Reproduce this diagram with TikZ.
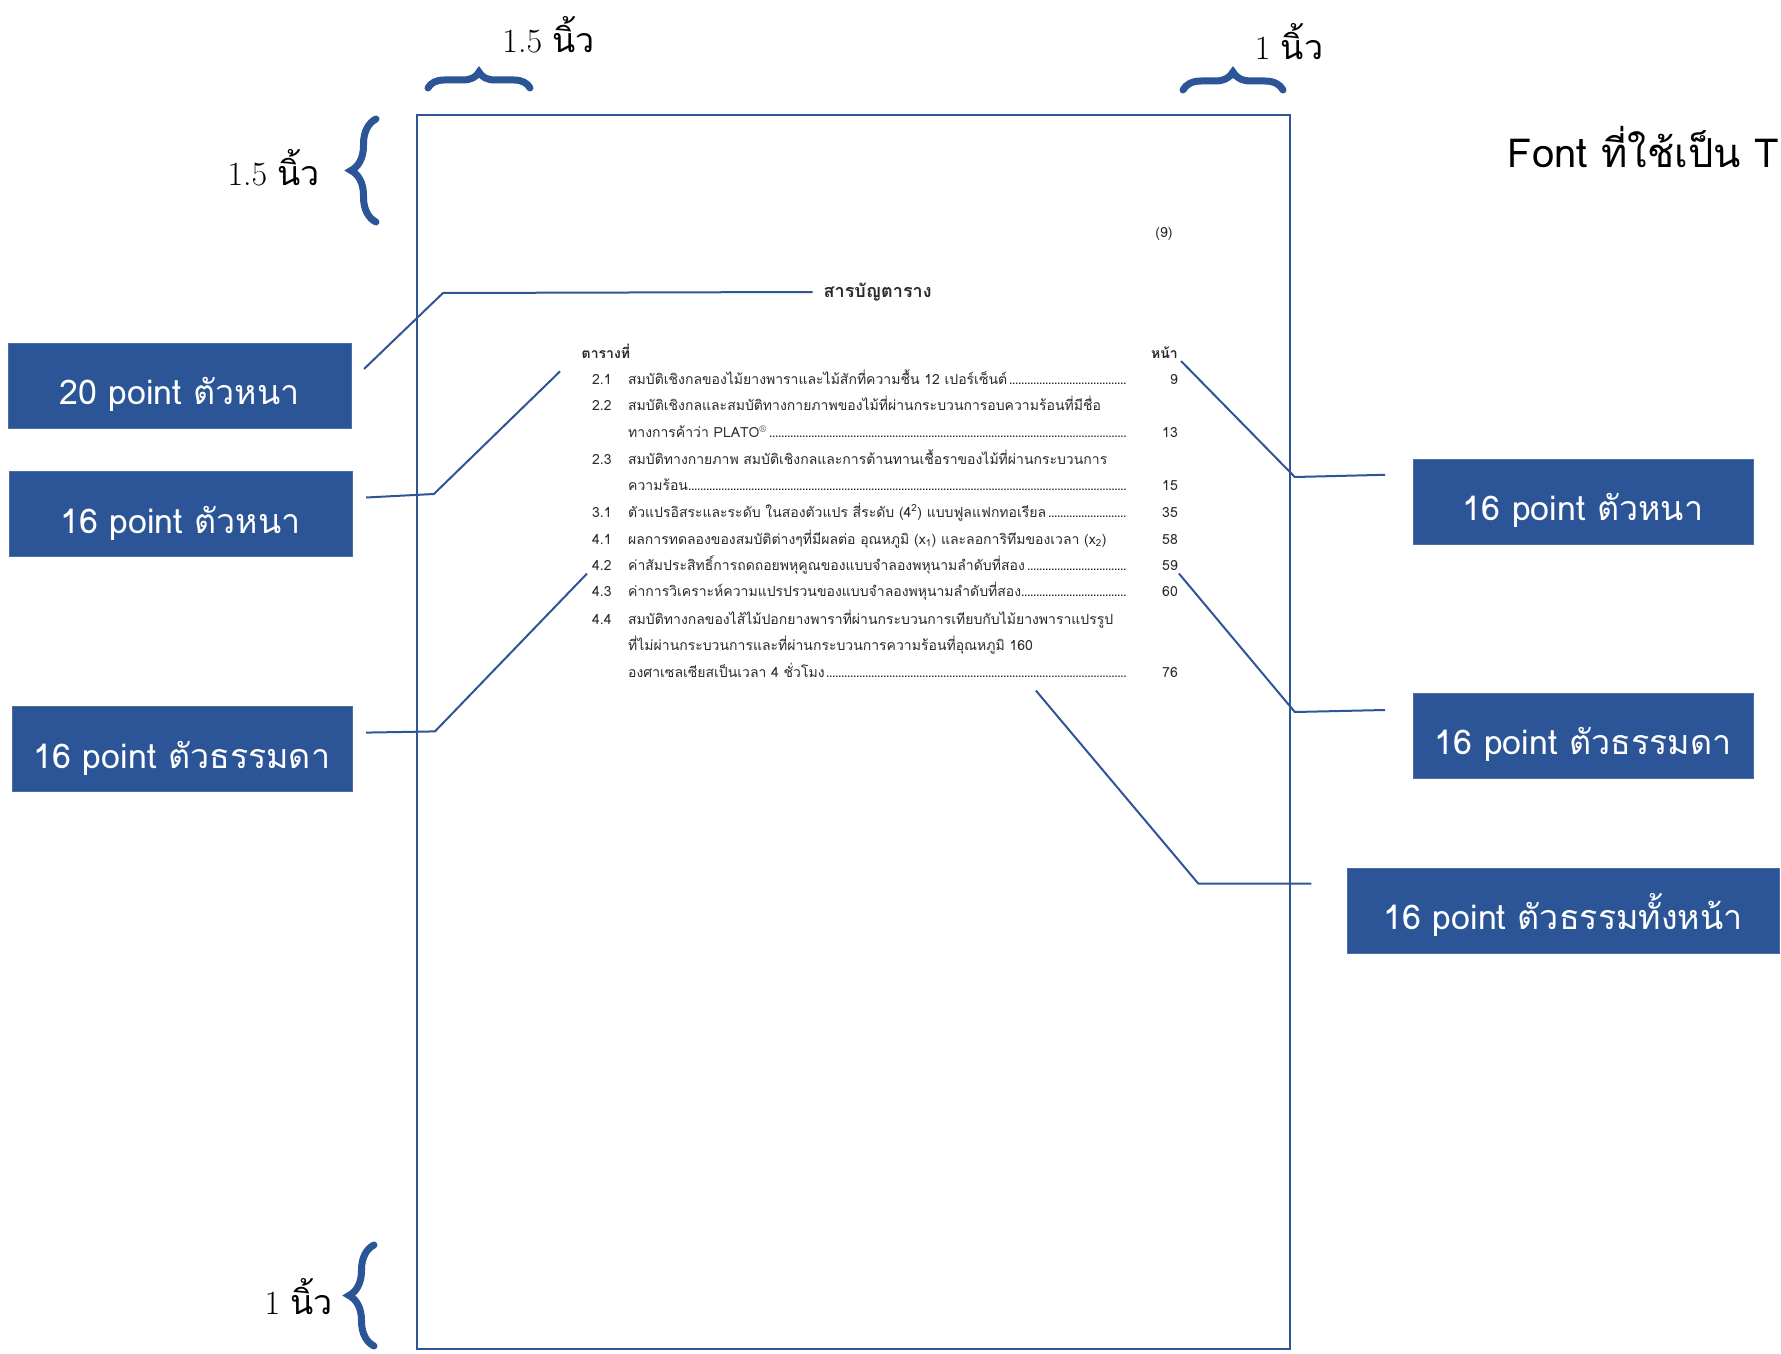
\documentclass[tikz,border=0pt]{standalone}
\usepackage{fontspec}
\newfontfamily\thai[Script=Thai]{Loma}
\usetikzlibrary{decorations.pathreplacing}
\definecolor{boxblue}{HTML}{2B5597}
\definecolor{lineblue}{HTML}{2F5597}
\definecolor{pagetxt}{HTML}{2A2A2A}
\newcommand{\rowfont}{\thai\fontsize{14}{16}\selectfont}
\newcommand{\tightdots}{\leaders\hbox to 3pt{\hss.\hss}\hfill}
\newcommand{\dotrow}[1]{\makebox[500pt][l]{#1\tightdots}}
\begin{document}
\begin{tikzpicture}[x=1pt,y=-1pt,
  labelbox/.style={fill=boxblue, draw=boxblue!85!white, line width=1pt, text=white,
    font=\thai\fontsize{34}{38}\selectfont, inner sep=0pt, minimum height=85pt,
    text height=38pt, text depth=0pt},
  conn/.style={draw=lineblue, line width=2pt},
  bracestyle/.style={draw=boxblue, line width=7pt, line cap=round,
    decorate, decoration={brace, amplitude=#1}},
  bracelabel/.style={font=\fontsize{34}{38}\selectfont, text=black, inner sep=0pt},
  rownum/.style={font=\rowfont, text=pagetxt, anchor=base west, inner sep=0pt},
  rowtxt/.style={font=\rowfont, text=pagetxt, anchor=base west, inner sep=0pt},
  rowpg/.style={font=\rowfont, text=pagetxt, anchor=base east, inner sep=0pt},
]
\useasboundingbox (0,0) rectangle (1781,1354);
\clip (0,0) rectangle (1781,1354);
\fill[white] (0,0) rectangle (1781,1354);

% page
\draw[draw=lineblue, line width=2pt] (416.8,114.7) rectangle (1290.3,1349.3);

% braces
\draw[bracestyle=16pt] (428,88) -- (530,88);
\node[bracelabel] (lbTL) at (548.6,35) {1.5 {\thai นิ้ว}};
\draw[bracestyle=18pt] (1183,90) -- (1283,90);
\node[bracelabel] (lbTR) at (1289,42) {1 {\thai นิ้ว}};
\draw[bracestyle=25pt] (376,222) -- (376,119);
\node[bracelabel] (lbL1) at (273.7,168) {1.5 {\thai นิ้ว}};
\draw[bracestyle=25pt] (374,1346) -- (374,1245);
\node[bracelabel] (lbL2) at (298.7,1297) {1 {\thai นิ้ว}};

% font note
\node[anchor=base east, inner sep=0pt, font=\thai\fontsize{40}{44}\selectfont] (fontnote) at (1779,167) {Font ที่ใช้เป็น T};

% label boxes
\node[labelbox, minimum width=343pt] (b1) at (179.5,385.5) {20 point ตัวหนา};
\node[labelbox, minimum width=343pt] (b2) at (180.5,514) {16 point ตัวหนา};
\node[labelbox, minimum width=340pt] (b3) at (182,749) {16 point ตัวธรรมดา};
\node[labelbox, minimum width=340pt] (r1) at (1583,501.5) {16 point ตัวหนา};
\node[labelbox, minimum width=340pt] (r2) at (1583,735.5) {16 point ตัวธรรมดา};
\node[labelbox, minimum width=432pt] (r3) at (1563,910.5) {16 point ตัวธรรมทั้งหน้า};

% page content
\node[font=\rowfont, text=pagetxt, inner sep=0pt] (pgno) at (1164,234) {(9)};
\node[font=\thai\bfseries\fontsize{18}{20}\selectfont, text=pagetxt, anchor=west, inner sep=0pt] (title) at (823.5,292) {สารบัญตาราง};
\node[rownum, font=\thai\bfseries\fontsize{14}{16}\selectfont] (hdl) at (581.5,358) {ตารางที่};
\node[rowpg, font=\thai\bfseries\fontsize{14}{16}\selectfont] (hdr) at (1178,358) {หน้า};

\node[rownum] (n1) at (592,384.5) {2.1};
\node[rowtxt] (t1) at (628,384.5) {\dotrow{สมบัติเชิงกลของไม้ยางพาราและไม้สักที่ความชื้น 12 เปอร์เซ็นต์}};
\node[rowpg] (p1) at (1178,384.5) {9};

\node[rownum] (n2) at (592,410.5) {2.2};
\node[rowtxt] (t2) at (628,410.5) {สมบัติเชิงกลและสมบัติทางกายภาพของไม้ที่ผ่านกระบวนการอบความร้อนที่มีชื่อ};

\node[rowtxt] (t3) at (628,437.7) {\dotrow{ทางการค้าว่า PLATO\textsuperscript{\rmfamily\textregistered}}};
\node[rowpg] (p3) at (1178,437.7) {13};

\node[rownum] (n4) at (592,464) {2.3};
\node[rowtxt] (t4) at (628,464) {สมบัติทางกายภาพ สมบัติเชิงกลและการต้านทานเชื้อราของไม้ที่ผ่านกระบวนการ};

\node[rowtxt] (t5) at (628,490) {\dotrow{ความร้อน}};
\node[rowpg] (p5) at (1178,490) {15};

\node[rownum] (n6) at (592,517) {3.1};
\node[rowtxt] (t6) at (628,517) {\dotrow{ตัวแปรอิสระและระดับ ในสองตัวแปร สี่ระดับ (4\textsuperscript{2}) แบบฟูลแฟกทอเรียล}};
\node[rowpg] (p6) at (1178,517) {35};

\node[rownum] (n7) at (592,544.5) {4.1};
\node[rowtxt] (t7) at (628,544.5) {ผลการทดลองของสมบัติต่างๆที่มีผลต่อ อุณหภูมิ (x\textsubscript{1}) และลอการิทึมของเวลา (x\textsubscript{2})};
\node[rowpg] (p7) at (1178,544.5) {58};

\node[rownum] (n8) at (592,570.6) {4.2};
\node[rowtxt] (t8) at (628,570.6) {\dotrow{ค่าสัมประสิทธิ์การถดถอยพหุคูณของแบบจำลองพหุนามลำดับที่สอง}};
\node[rowpg] (p8) at (1178,570.6) {59};

\node[rownum] (n9) at (592,596.7) {4.3};
\node[rowtxt] (t9) at (628,596.7) {\dotrow{ค่าการวิเคราะห์ความแปรปรวนของแบบจำลองพหุนามลำดับที่สอง}};
\node[rowpg] (p9) at (1178,596.7) {60};

\node[rownum] (n10) at (592,624) {4.4};
\node[rowtxt] (t10) at (628,624) {สมบัติทางกลของไส้ไม้ปอกยางพาราที่ผ่านกระบวนการเทียบกับไม้ยางพาราแปรรูป};
\node[rowtxt] (t11) at (628,650) {ที่ไม่ผ่านกระบวนการและที่ผ่านกระบวนการความร้อนที่อุณหภูมิ 160};
\node[rowtxt] (t12) at (628,677.4) {\dotrow{องศาเซลเซียสเป็นเวลา 4 ชั่วโมง}};
\node[rowpg] (p12) at (1178,677.4) {76};

% free ends
\coordinate (e2) at (560,371.4);
\coordinate (e3) at (587,573.6);
\coordinate (e4) at (1181,361);
\coordinate (e5) at (1179,573.6);
\coordinate (e6) at (1035.9,690.6);

% connectors
\draw[conn] ([xshift=12.5pt,yshift=16.5pt]b1.east) -- (443,293) -- ([xshift=-11pt]title.west);
\draw[conn] ([xshift=13.7pt,yshift=16.5pt]b2.east) -- (433.9,494) -- (e2);
\draw[conn] ([xshift=13.7pt,yshift=16.4pt]b3.east) -- (435,731.4) -- (e3);
\draw[conn] ([xshift=-27.3pt,yshift=26.7pt]r1.west) -- (1294.8,477) -- (e4);
\draw[conn] ([xshift=-27.3pt,yshift=25.5pt]r2.west) -- (1294.8,712) -- (e5);
\draw[conn] ([xshift=-35.2pt,yshift=27pt]r3.west) -- (1198.3,883.6) -- (e6);
\end{tikzpicture}
\end{document}
